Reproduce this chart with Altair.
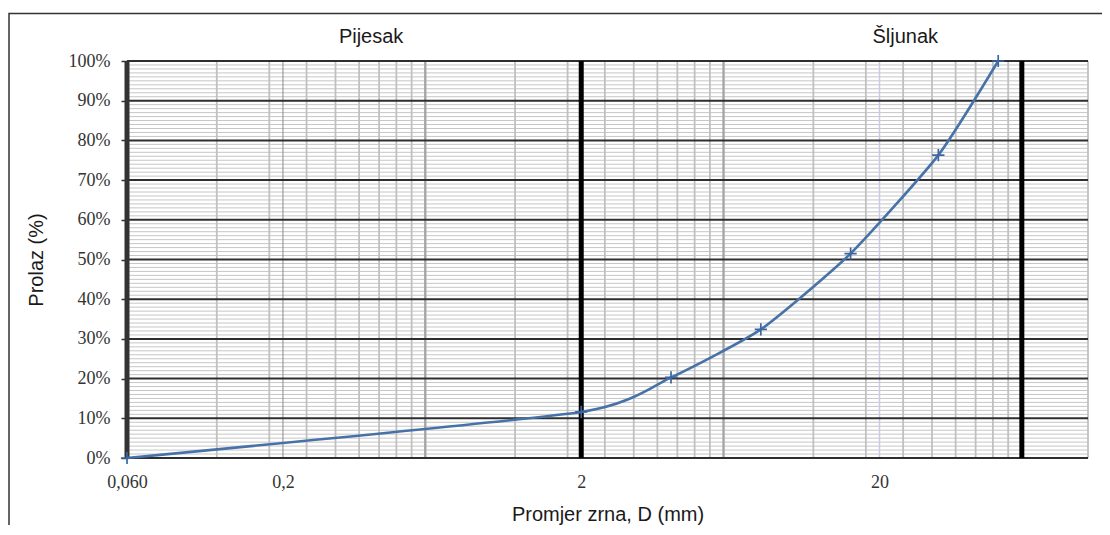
import altair as alt
import pandas as pd

# ---- data ----
grain_size_mm = [0.06, 2, 4, 8, 16, 31.5, 50]
passing_pct = [0, 11.6, 20.3, 32.4, 51.5, 76.3, 100]

# axis ticks / labels
x_tick_values = [0.06, 0.2, 2, 20]
x_tick_labels = ["0,060", "0,2", "2", "20"]
y_tick_values = [0, 10, 20, 30, 40, 50, 60, 70, 80, 90, 100]

# grid structure (log axis starting at 0.06, minor lines at multiples)
x_minor = [0.12, 0.18, 0.24, 0.30, 0.36, 0.42, 0.48, 0.54,
           1.2, 1.8, 2.4, 3.0, 3.6, 4.2, 4.8, 5.4,
           12, 18, 24, 30, 36, 42, 48, 54, 100]
x_medium = [0.6, 6]
x_thin_dark = [0.2]
x_lavender = [20]
x_thick_axis = [0.06]
x_thick = [2, 60]
y_minor = [v for v in range(0, 101) if v % 10 != 0]
y_major = y_tick_values

zone_labels = ["Pijesak", "Šljunak"]
zone_label_x = [0.395, 24.4]

# ---- chart ----
W, H = 961, 397
PAD_L, PAD_T = 119, 53
TOTAL_W, TOTAL_H = 1094, 517

xscale = alt.Scale(type="log", domain=[0.06, 100], nice=False)
yscale = alt.Scale(domain=[0, 100], nice=False, zero=False)

label_expr = " : ".join(
    f"abs(datum.value - {v}) < 1e-9 ? '{t}'" for v, t in zip(x_tick_values, x_tick_labels)
) + " : ''"

xaxis = alt.Axis(
    values=x_tick_values, labelExpr=label_expr, grid=False, ticks=False, domain=False,
    labelFont="Liberation Serif", labelFontSize=18, labelColor="#333333", labelPadding=15,
    labelFlush=False, labelOverlap=False,
    title="Promjer zrna, D (mm)", titleFont="Liberation Sans", titleFontSize=20,
    titleFontWeight="normal", titleColor="#1a1a1a", titleY=62, titleBaseline="alphabetic",
)
yaxis = alt.Axis(
    values=y_tick_values, labelExpr="datum.value + '%'", grid=False, domain=False,
    ticks=True, tickSize=6, tickColor="#333333", tickWidth=1.5,
    labelFont="Liberation Serif", labelFontSize=18, labelColor="#333333", labelPadding=11,
    title="Prolaz  (%)", titleFont="Liberation Sans", titleFontSize=20,
    titleFontWeight="normal", titleColor="#1a1a1a", titleAngle=270,
    titleX=-91, titleY=H / 2, titleAlign="center", titleBaseline="middle",
)

def vrules(vals, color, width):
    return alt.Chart(pd.DataFrame({"D": vals})).mark_rule(color=color, strokeWidth=width).encode(
        x=alt.X("D:Q", scale=xscale, axis=xaxis)
    )

def hrules(vals, color, width):
    return alt.Chart(pd.DataFrame({"P": vals})).mark_rule(color=color, strokeWidth=width).encode(
        y=alt.Y("P:Q", scale=yscale, axis=yaxis)
    )

df = pd.DataFrame({"D": grain_size_mm, "P": passing_pct})

border = alt.Chart(pd.DataFrame({"a": [0]})).mark_rect(
    fill=None, stroke="#333333", strokeWidth=1.5
).encode(
    x=alt.value(-PAD_L + 1), y=alt.value(-PAD_T + 5.5),
    x2=alt.value(TOTAL_W + 50), y2=alt.value(TOTAL_H + 50),
)

line = alt.Chart(df).mark_line(
    color="#4672a8", strokeWidth=2.6, interpolate="cardinal", tension=0.45
).encode(
    x=alt.X("D:Q", scale=xscale, axis=xaxis),
    y=alt.Y("P:Q", scale=yscale, axis=yaxis),
)
points = alt.Chart(df).mark_point(
    shape="M-1,0L1,0M0,-1L0,1", size=150, filled=False, color="#3d66a0", strokeWidth=1.7, opacity=1
).encode(
    x=alt.X("D:Q", scale=xscale, axis=xaxis),
    y=alt.Y("P:Q", scale=yscale, axis=yaxis),
)

zones = alt.Chart(pd.DataFrame({"label": zone_labels, "D": zone_label_x})).mark_text(
    font="Liberation Sans", fontSize=20, color="#1a1a1a", baseline="alphabetic", align="center"
).encode(
    x=alt.X("D:Q", scale=xscale, axis=xaxis),
    y=alt.value(-18),
    text="label:N",
)

chart = alt.layer(
    border,
    hrules(y_minor, "#c6c6c6", 1.0),
    vrules(x_minor, "#c0c0c0", 1.8),
    vrules(x_lavender, "#c9c9e6", 1.5),
    vrules(x_medium, "#a6a6a6", 2.4),
    vrules(x_thin_dark, "#8a8a8a", 1.0),
    hrules(y_major, "#2e2e2e", 2.0),
    vrules(x_thick_axis, "#333333", 5),
    vrules(x_thick, "#000000", 5),
    line,
    points,
    zones,
).properties(
    width=W, height=H,
    autosize=alt.AutoSizeParams(type="none"),
    padding={"left": PAD_L, "top": PAD_T, "right": TOTAL_W - PAD_L - W, "bottom": TOTAL_H - PAD_T - H},
).configure_view(strokeWidth=0)

chart.save("out.html", embed_options={"renderer": "svg", "actions": False})
